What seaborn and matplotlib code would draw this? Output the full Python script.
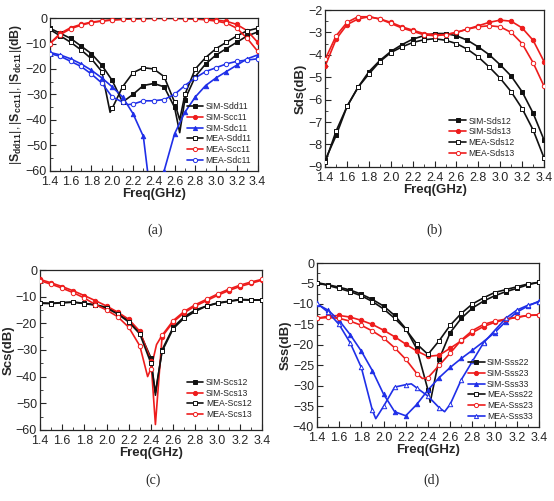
import numpy as np
import pandas as pd
import matplotlib
matplotlib.use("Agg")
import matplotlib.pyplot as plt
import seaborn as sns
from matplotlib.lines import Line2D
from matplotlib.ticker import MultipleLocator

sns.set_style("ticks")
plt.rcParams['font.family'] = ['Liberation Sans', 'DejaVu Sans']
plt.rcParams['mathtext.fontset'] = 'custom'
plt.rcParams['mathtext.rm'] = 'Liberation Sans'
plt.rcParams['mathtext.bf'] = 'Liberation Sans:bold'

# common frequency grid (GHz), markers sit on these points
freq = [1.4, 1.5, 1.6, 1.7, 1.8, 1.9, 2.0, 2.1, 2.2, 2.3, 2.4,
        2.5, 2.6, 2.7, 2.8, 2.9, 3.0, 3.1, 3.2, 3.3, 3.4]

# (a) Sdd11 / Scc11 / Sdc11
sim_sdd11 = [-4, -6, -8, -11, -14, -18.5, -24.5, -33, -30, -26.5, -25.7,
             -27, -35, -32, -23, -18, -14.5, -12, -9.5, -7, -5.5]
sim_sdd11_dip = [(2.65, -45)]
sim_scc11 = [-10, -6, -3.8, -2.5, -1.6, -1.1, -0.7, -0.5, -0.3, -0.2, -0.1,
             -0.1, -0.1, -0.2, -0.3, -0.5, -0.8, -1.3, -2.5, -5, -9.5]
sim_sdc11 = [-13.5, -14.5, -16, -18, -20.5, -23.5, -27, -31, -37.5, -46.5, -80,
             -60, -45.5, -37, -31, -26.5, -23.5, -21, -18.5, -16, -14.5]
mea_sdd11 = [-4.5, -7, -9.5, -12.5, -16, -21, -35.5, -27, -21.5, -19.5, -20,
             -23, -33, -30, -20, -15.5, -12, -9.5, -7, -5, -4]
mea_sdd11_dip = [(1.98, -37), (2.65, -40)]
mea_scc11 = [-10, -6.5, -4.2, -2.8, -1.8, -1.2, -0.8, -0.5, -0.3, -0.2, -0.1,
             -0.1, -0.1, -0.2, -0.4, -0.7, -1.2, -2, -4, -8, -13]
mea_sdc11 = [-14, -15, -17, -19, -22, -25.5, -31, -33, -33.8, -32.5, -32.5,
             -32, -30, -26.5, -23.5, -21, -19.5, -18, -17, -16.5, -16]
mea_sdc11_dip = [(2.15, -34)]

# (b) Sds12 / Sds13
sim_sds12 = [-8.7, -7.6, -6.3, -5.45, -4.75, -4.25, -3.85, -3.55, -3.3, -3.15, -3.05,
             -3.05, -3.15, -3.35, -3.65, -4.0, -4.45, -4.95, -5.65, -6.6, -7.8]
sim_sds13 = [-4.5, -3.3, -2.65, -2.4, -2.3, -2.4, -2.55, -2.75, -2.9, -3.05, -3.1,
             -3.1, -3.0, -2.85, -2.7, -2.55, -2.45, -2.5, -2.8, -3.35, -4.3]
mea_sds12 = [-8.8, -7.4, -6.3, -5.45, -4.85, -4.3, -3.9, -3.65, -3.45, -3.33, -3.28,
             -3.35, -3.5, -3.75, -4.1, -4.55, -5.05, -5.65, -6.4, -7.35, -8.6]
mea_sds13 = [-4.2, -3.15, -2.55, -2.3, -2.3, -2.4, -2.6, -2.8, -2.95, -3.1, -3.15,
             -3.1, -3.0, -2.85, -2.75, -2.7, -2.75, -3.0, -3.5, -4.35, -5.4]

# (c) Scs12 / Scs13
sim_scs12 = [-12.3, -12.5, -12.2, -12, -12.5, -13, -14, -16, -19, -23.5, -33,
             -30, -21.5, -17.5, -15, -13.5, -12.5, -11.8, -11.2, -11.3, -11.3]
sim_scs12_dip = [(2.44, -47)]
sim_scs13 = [-3.5, -4.8, -6.2, -7.8, -9.6, -11.5, -13.5, -15.8, -18.5, -23, -34,
             -25, -19.5, -16, -13.5, -11.5, -9.5, -7.7, -6.2, -5, -3.8]
sim_scs13_dip = [(2.44, -58)]
mea_scs12 = [-12.5, -12.6, -12.3, -12.1, -12.6, -13.2, -14.3, -16.5, -19.5, -24, -35,
             -30.5, -22, -18, -15.5, -13.5, -12.3, -11.7, -11, -11.2, -11.2]
mea_scs12_dip = [(2.44, -46)]
mea_scs13 = [-4, -5.3, -6.8, -8.5, -10.5, -13, -15, -17.5, -21.5, -28.5, -37,
             -24.5, -19, -15.5, -13, -11, -9, -7.2, -5.7, -4.5, -3.5]
mea_scs13_dip = [(2.37, -40), (2.45, -28)]

# (d) Sss22 / Sss23 / Sss33
sim_sss22 = [-4.8, -5.3, -5.9, -6.6, -7.6, -8.9, -10.5, -12.8, -16, -21, -31,
             -23.5, -17, -13.5, -11, -9.3, -8, -7, -6.2, -5.3, -4.7]
sim_sss22_dip = [(2.42, -34)]
sim_sss23 = [-13.5, -13, -12.8, -13.2, -14, -15, -16.4, -18, -19.8, -21.5, -22.8,
             -22.5, -20.8, -19, -17, -15.5, -14.5, -13.8, -13.2, -12.8, -12.7]
sim_sss33 = [-10, -11.5, -14, -17.5, -21.5, -26.3, -32, -36.3, -37.3, -34.5, -31,
             -28, -25.5, -23.3, -21.3, -19.2, -17, -14.3, -12, -10.5, -9.3]
mea_sss22 = [-4.8, -5.5, -6.2, -7.0, -8.0, -9.4, -11.2, -13.5, -16.2, -19.8, -22.3,
             -19, -15.2, -12.3, -10, -8.5, -7.2, -6.5, -5.8, -5.1, -4.7]
mea_sss23 = [-13.5, -13.3, -13.5, -14.2, -15.2, -16.6, -18.3, -20.7, -23.5, -27, -28,
             -25, -22, -18.8, -16.5, -15, -14.2, -13.7, -13.3, -12.8, -12.6]
mea_sss23_dip = [(2.35, -28.2)]
mea_sss33 = [-9.8, -12, -15, -19.5, -25.5, -36, -35, -30.3, -29.7, -30.5, -32.5,
             -35.3, -34.5, -28.5, -24, -19.5, -16.5, -13.5, -11.5, -10.3, -9.5]
mea_sss33_dip = [(1.93, -38), (2.25, -29.5), (2.55, -36.3)]

RED = '#ee1c1c'
BLUE = '#1f2fe8'
BLACK = '#111111'


def draw(ax, vals, color, marker, filled, label, dip=()):
    f = list(freq) + [p[0] for p in dip]
    v = list(vals) + [p[1] for p in dip]
    df = pd.DataFrame({"f": f, "v": v}).sort_values("f")
    sns.lineplot(data=df, x="f", y="v", ax=ax, color=color, lw=1.2,
                 estimator=None, sort=False)
    sns.scatterplot(x=freq, y=vals, ax=ax, marker=marker, s=10,
                    facecolor=color if filled else 'white', edgecolor=color,
                    linewidth=0.7, zorder=3)
    return Line2D([], [], color=color, lw=1.2, marker=marker, markersize=3.0,
                  mfc=color if filled else 'white', mec=color, mew=0.7, label=label)


def style(ax, ylim, ymaj, ymin, ylabel):
    ax.set_xlim(1.4, 3.4)
    ax.set_ylim(*ylim)
    ax.xaxis.set_major_locator(MultipleLocator(0.2))
    ax.xaxis.set_minor_locator(MultipleLocator(0.1))
    ax.yaxis.set_major_locator(MultipleLocator(ymaj))
    ax.yaxis.set_minor_locator(MultipleLocator(ymin))
    ax.xaxis.set_major_formatter(plt.FormatStrFormatter('%.1f'))
    ax.tick_params(which='major', direction='in', length=4, width=0.8, labelsize=9)
    ax.tick_params(which='minor', direction='in', length=2, width=0.6)
    ax.tick_params(axis='x', which='major', pad=4)
    ax.tick_params(axis='y', which='major', pad=2)
    ax.tick_params(top=False, right=False)
    for s in ax.spines.values():
        s.set_linewidth(0.9)
        s.set_visible(True)
    ax.set_xlabel('Freq(GHz)', fontsize=9.5, fontweight='bold', labelpad=0)
    ax.set_ylabel(ylabel, fontsize=9.5, fontweight='bold', labelpad=1)


fig = plt.figure(figsize=(5.54, 5.01), dpi=100)
ax_a = fig.add_axes([0.090, 0.659, 0.375, 0.305])
ax_b = fig.add_axes([0.587, 0.667, 0.395, 0.313])
ax_c = fig.add_axes([0.072, 0.142, 0.401, 0.319])
ax_d = fig.add_axes([0.572, 0.148, 0.401, 0.327])

leg_kw = dict(fontsize=6.2, labelspacing=0.2, handlelength=1.9,
              handletextpad=0.3, borderaxespad=0.3, frameon=False)

# (a)
h = [draw(ax_a, sim_sdd11, BLACK, 's', True, 'SIM-Sdd11', sim_sdd11_dip),
     draw(ax_a, sim_scc11, RED, 'o', True, 'SIM-Scc11'),
     draw(ax_a, sim_sdc11, BLUE, '^', True, 'SIM-Sdc11'),
     draw(ax_a, mea_sdd11, BLACK, 's', False, 'MEA-Sdd11', mea_sdd11_dip),
     draw(ax_a, mea_scc11, RED, 'o', False, 'MEA-Scc11'),
     draw(ax_a, mea_sdc11, BLUE, 'o', False, 'MEA-Sdc11', mea_sdc11_dip)]
style(ax_a, (-60, 0), 10, 5,
      r'$|\mathbf{S}_{\mathbf{dd11}}|,|\mathbf{S}_{\mathbf{cc11}}|,|\mathbf{S}_{\mathbf{dc11}}|$(dB)')
ax_a.yaxis.label.set_size(8.8)
ax_a.legend(handles=h, loc='lower right', **leg_kw)

# (b)
h = [draw(ax_b, sim_sds12, BLACK, 's', True, 'SIM-Sds12'),
     draw(ax_b, sim_sds13, RED, 'o', True, 'SIM-Sds13'),
     draw(ax_b, mea_sds12, BLACK, 's', False, 'MEA-Sds12'),
     draw(ax_b, mea_sds13, RED, 'o', False, 'MEA-Sds13')]
style(ax_b, (-9, -2), 1, 0.5, 'Sds(dB)')
ax_b.legend(handles=h, loc='lower left', bbox_to_anchor=(0.54, 0.02), **leg_kw)

# (c)
h = [draw(ax_c, sim_scs12, BLACK, 's', True, 'SIM-Scs12', sim_scs12_dip),
     draw(ax_c, sim_scs13, RED, 'o', True, 'SIM-Scs13', sim_scs13_dip),
     draw(ax_c, mea_scs12, BLACK, 's', False, 'MEA-Scs12', mea_scs12_dip),
     draw(ax_c, mea_scs13, RED, 'o', False, 'MEA-Scs13', mea_scs13_dip)]
style(ax_c, (-60, 0), 10, 5, 'Scs(dB)')
ax_c.legend(handles=h, loc='lower right', bbox_to_anchor=(0.98, 0.03), **leg_kw)

# (d)
h = [draw(ax_d, sim_sss22, BLACK, 's', True, 'SIM-Sss22', sim_sss22_dip),
     draw(ax_d, sim_sss23, RED, 'o', True, 'SIM-Sss23'),
     draw(ax_d, sim_sss33, BLUE, '^', True, 'SIM-Sss33'),
     draw(ax_d, mea_sss22, BLACK, 's', False, 'MEA-Sss22'),
     draw(ax_d, mea_sss23, RED, 'o', False, 'MEA-Sss23', mea_sss23_dip),
     draw(ax_d, mea_sss33, BLUE, '^', False, 'MEA-Sss33', mea_sss33_dip)]
style(ax_d, (-40, 0), 5, 2.5, 'Sss(dB)')
ax_d.legend(handles=h, loc='lower right', **leg_kw)

for txt, x, y in [('(a)', 155, 230), ('(b)', 434, 230), ('(c)', 153, 480), ('(d)', 432, 480)]:
    fig.text(x / 554, 1 - y / 501, txt, ha='center', va='center',
             fontsize=10, family='Liberation Serif')

fig.savefig('out.png', dpi=100)
